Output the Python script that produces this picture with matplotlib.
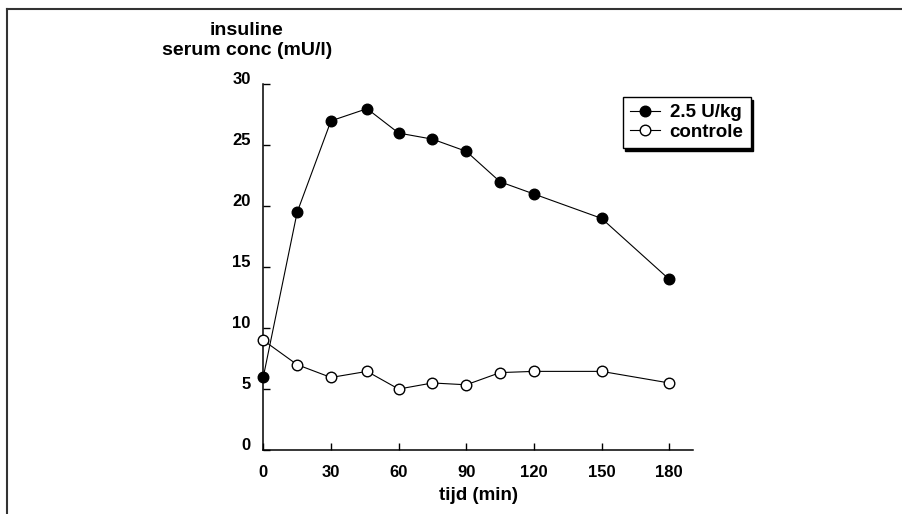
"""Insuline serum concentration after dosing versus control."""
import matplotlib
matplotlib.use("Agg")
import matplotlib.pyplot as plt
from matplotlib.lines import Line2D

# Data
tijd = [0, 15, 30, 46, 60, 75, 90, 105, 120, 150, 180]
dosis = [6.0, 19.5, 27.0, 28.0, 26.0, 25.5, 24.5, 22.0, 21.0, 19.0, 14.0]
controle = [9.0, 7.0, 5.95, 6.45, 5.0, 5.5, 5.35, 6.35, 6.45, 6.45, 5.5]
x_ticks = [0, 30, 60, 90, 120, 150, 180]
y_ticks = [0, 5, 10, 15, 20, 25, 30]

plt.rcParams["font.family"] = ["Liberation Sans", "DejaVu Sans"]
plt.rcParams["font.weight"] = "bold"

fig = plt.figure(figsize=(9.03, 5.14), dpi=100)
ax = fig.add_axes([0.2916, 0.1245, 0.4755, 0.7115])

ax.plot(tijd, dosis, color="black", lw=0.8, marker="o", ms=7.6,
        mfc="black", mec="black", mew=1, clip_on=False, zorder=3,
        label="2.5 U/kg")
ax.plot(tijd, controle, color="black", lw=0.8, marker="o", ms=7.6,
        mfc="white", mec="black", mew=1, clip_on=False, zorder=3,
        label="controle")

ax.set_xlim(0, 190.4)
ax.set_ylim(0, 30)
ax.set_xticks(x_ticks)
ax.set_yticks(y_ticks)

for side in ["top", "right"]:
    ax.spines[side].set_visible(False)
for side in ["left", "bottom"]:
    ax.spines[side].set_linewidth(1.1)

ax.tick_params(direction="in", length=5, width=1, labelsize=12)
ax.tick_params(axis="y", pad=9)
ax.tick_params(axis="x", pad=10.5)
for lab in ax.get_yticklabels():
    lab.set_verticalalignment("baseline")
    lab.set_fontweight("bold")
for lab in ax.get_xticklabels():
    lab.set_fontweight("bold")

ax.set_xlabel("tijd (min)", fontsize=13.5, fontweight="bold", labelpad=5)

# y-axis title above the axis
fig.text(247 / 903, 1 - 35 / 514, "insuline", ha="center", va="baseline",
         fontsize=14, fontweight="bold")
fig.text(247 / 903, 1 - 55 / 514, "serum conc (mU/l)", ha="center",
         va="baseline", fontsize=14, fontweight="bold")

leg = ax.legend(loc="upper left", bbox_to_anchor=(622.7 / 903, 1 - 97 / 514),
                bbox_transform=fig.transFigure, borderaxespad=0,
                fontsize=13.5, handlelength=1.6, handletextpad=0.52,
                borderpad=0.38, labelspacing=0.12, fancybox=False,
                shadow={"color": "black", "alpha": 1})
leg.get_frame().set_edgecolor("black")
leg.get_frame().set_linewidth(1)
leg.get_frame().set_alpha(1)
for t in leg.get_texts():
    t.set_fontweight("bold")

# page border on the left and top
fig.add_artist(Line2D([7 / 903, 7 / 903], [0, 1 - 8.5 / 514],
                      transform=fig.transFigure, color="#333333", lw=1.5))
fig.add_artist(Line2D([7 / 903, 1], [1 - 8.5 / 514, 1 - 8.5 / 514],
                      transform=fig.transFigure, color="#333333", lw=1.5))

fig.savefig("out.png", dpi=100)
